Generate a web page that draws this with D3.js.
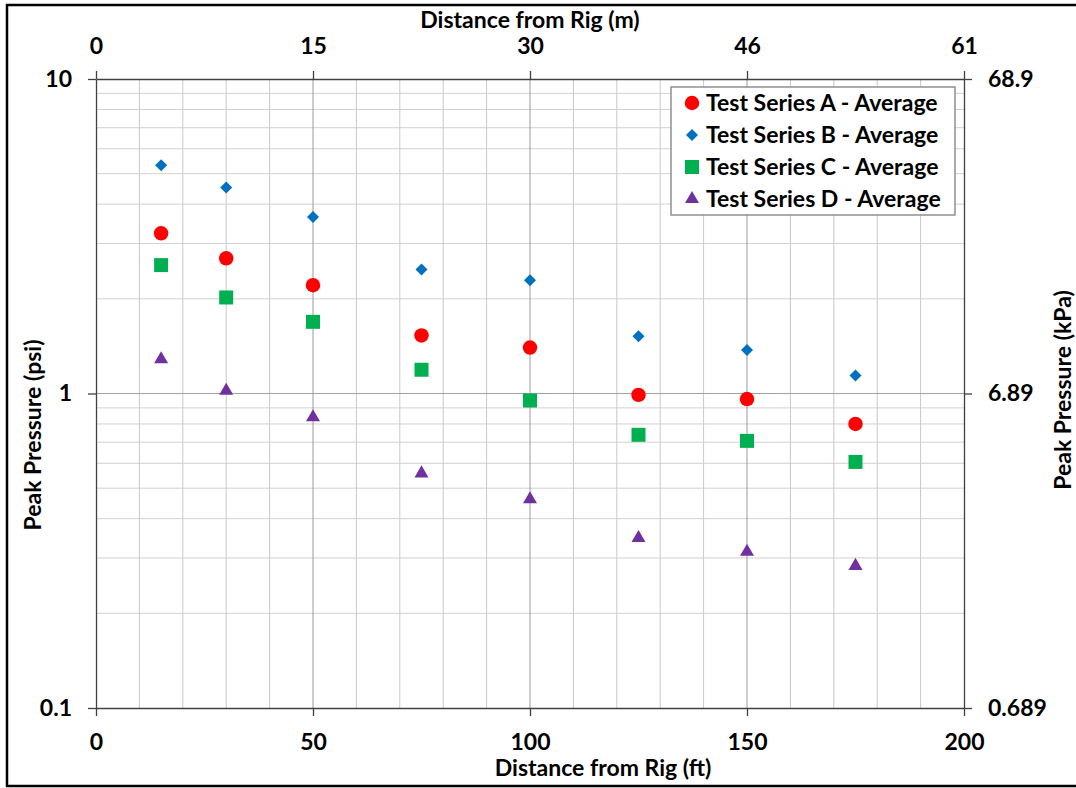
<!DOCTYPE html>
<html>
<head>
<meta charset="utf-8">
<script src="https://cdn.jsdelivr.net/npm/d3@7"></script>
<style>
  body { margin: 0; background: #fff; }
  text { font-family: Lato, "Open Sans", sans-serif; font-weight: bold; fill: #000; }
</style>
</head>
<body>
<div id="chart"></div>
<script>
// Data
var distances = [15, 30, 50, 75, 100, 125, 150, 175];
var seriesA = [3.23, 2.69, 2.21, 1.53, 1.40, 0.99, 0.96, 0.80];
var seriesB = [5.32, 4.52, 3.64, 2.48, 2.29, 1.52, 1.375, 1.14];
var seriesC = [2.56, 2.02, 1.69, 1.19, 0.95, 0.739, 0.707, 0.606];
var seriesD = [1.285, 1.02, 0.84, 0.557, 0.461, 0.347, 0.314, 0.283];
var seriesNames = ["Test Series A - Average", "Test Series B - Average",
                   "Test Series C - Average", "Test Series D - Average"];

var ftTicks = [0, 50, 100, 150, 200];
var mTickLabels = ["0", "15", "30", "46", "61"];
var psiTicks = [0.1, 1, 10];
var psiTickLabels = ["0.1", "1", "10"];
var kpaTickLabels = ["0.689", "6.89", "68.9"];

var W = 1076, H = 788;
var margin = {top: 79, right: 112, bottom: 80, left: 96};
var width = W - margin.left - margin.right,
    height = H - margin.top - margin.bottom;
var fs = "23px";

var svg = d3.select("#chart").append("svg")
    .attr("width", W)
    .attr("height", H);

// outer frame (right side falls off the picture)
svg.append("rect")
    .attr("x", 7).attr("y", 5)
    .attr("width", 1080).attr("height", 781)
    .attr("fill", "none")
    .attr("stroke", "#000")
    .attr("stroke-width", 2.5);

var g = svg.append("g")
    .attr("transform", "translate(" + margin.left + "," + margin.top + ")");

var x = d3.scaleLinear().domain([0, 200]).range([0, width]);
var y = d3.scaleLog().domain([0.1, 10]).range([height, 0]);

// minor grid
var xMinor = d3.range(10, 200, 10).filter(d => d % 50 !== 0);
g.append("g").selectAll("line").data(xMinor).enter().append("line")
    .attr("x1", d => x(d)).attr("x2", d => x(d))
    .attr("y1", 0).attr("y2", height)
    .attr("stroke", "#c8c8c8").attr("stroke-width", 1);

var yMinor = [];
[0.1, 1].forEach(dec => { for (var k = 2; k <= 9; k++) yMinor.push(dec * k); });
g.append("g").selectAll("line").data(yMinor).enter().append("line")
    .attr("x1", 0).attr("x2", width)
    .attr("y1", d => y(d)).attr("y2", d => y(d))
    .attr("stroke", "#d0d0d0").attr("stroke-width", 1);

// major grid
g.append("g").selectAll("line").data([50, 100, 150]).enter().append("line")
    .attr("x1", d => x(d)).attr("x2", d => x(d))
    .attr("y1", 0).attr("y2", height)
    .attr("stroke", "#9a9a9a").attr("stroke-width", 1);
g.append("line")
    .attr("x1", 0).attr("x2", width)
    .attr("y1", y(1)).attr("y2", y(1))
    .attr("stroke", "#a0a0a0").attr("stroke-width", 1);

// axes
function styleAxis(sel) {
    sel.select(".domain").attr("stroke", "#404040").attr("stroke-width", 1.3);
    sel.selectAll(".tick line").attr("stroke", "#404040").attr("stroke-width", 1.3);
    sel.selectAll(".tick text").style("font-size", fs).attr("fill", "#000");
}

g.append("g")
    .attr("transform", "translate(0," + height + ")")
    .call(d3.axisBottom(x).tickValues(ftTicks).tickSize(8).tickSizeOuter(0).tickPadding(18)
        .tickFormat(d3.format("d")))
    .call(styleAxis);

g.append("g")
    .call(d3.axisTop(x).tickValues(ftTicks).tickSize(8).tickSizeOuter(0).tickPadding(17)
        .tickFormat((d, i) => mTickLabels[i]))
    .call(styleAxis);

g.append("g")
    .call(d3.axisLeft(y).tickValues(psiTicks).tickSize(8).tickSizeOuter(0).tickPadding(16)
        .tickFormat((d, i) => psiTickLabels[i]))
    .call(styleAxis);

g.append("g")
    .attr("transform", "translate(" + width + ",0)")
    .call(d3.axisRight(y).tickValues(psiTicks).tickSize(8).tickSizeOuter(0).tickPadding(16)
        .tickFormat((d, i) => kpaTickLabels[i]))
    .call(styleAxis);

// axis titles
g.append("text")
    .attr("x", 507).attr("y", height + 68)
    .attr("text-anchor", "middle")
    .style("font-size", fs)
    .text("Distance from Rig (ft)");

g.append("text")
    .attr("x", width / 2).attr("y", -51)
    .attr("text-anchor", "middle")
    .style("font-size", fs)
    .text("Distance from Rig (m)");

g.append("text")
    .attr("transform", "rotate(-90)")
    .attr("x", -356).attr("y", -55)
    .attr("text-anchor", "middle")
    .style("font-size", fs)
    .text("Peak Pressure (psi)");

g.append("text")
    .attr("transform", "rotate(-90)")
    .attr("x", -311).attr("y", width + 107)
    .attr("text-anchor", "middle")
    .style("font-size", fs)
    .text("Peak Pressure (kPa)");

// series
var series = [
    {name: seriesNames[0], values: seriesA, color: "#ff0000", symbol: d3.symbolCircle, size: 165, rot: 0},
    {name: seriesNames[1], values: seriesB, color: "#0070c0", symbol: d3.symbolSquare, size: 72, rot: 45},
    {name: seriesNames[2], values: seriesC, color: "#00b050", symbol: d3.symbolSquare, size: 196, rot: 0},
    {name: seriesNames[3], values: seriesD, color: "#7030a0", symbol: d3.symbolTriangle, size: 85, rot: 0}
];

series.forEach(s => {
    g.append("g").selectAll("path")
        .data(distances.map((d, i) => ({x: d, y: s.values[i]})))
        .enter().append("path")
        .attr("d", d3.symbol().type(s.symbol).size(s.size))
        .attr("transform", d => "translate(" + x(d.x) + "," + y(d.y) + ") rotate(" + s.rot + ")")
        .attr("fill", s.color);
});

// legend
var legend = g.append("g")
    .attr("transform", "translate(" + (x(200) - 293) + ",8)");

legend.append("rect")
    .attr("x", 0).attr("y", 0)
    .attr("width", 284).attr("height", 128)
    .attr("fill", "#fff")
    .attr("stroke", "#7f7f7f")
    .attr("stroke-width", 1.3);

series.forEach((s, i) => {
    legend.append("path")
        .attr("d", d3.symbol().type(s.symbol).size(s.size))
        .attr("transform", "translate(21," + (16 + i * 32) + ") rotate(" + s.rot + ")")
        .attr("fill", s.color);
    legend.append("text")
        .attr("x", 35).attr("y", 16 + i * 32)
        .attr("dy", "0.35em")
        .style("font-size", fs)
        .text(s.name);
});
</script>
</body>
</html>
